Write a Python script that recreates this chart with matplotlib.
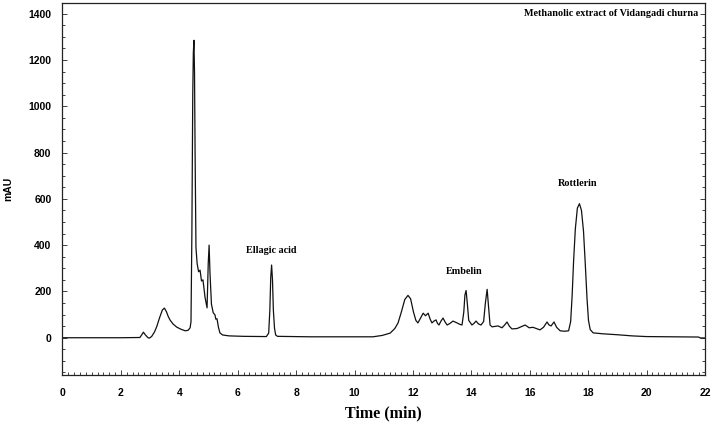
import matplotlib
matplotlib.use("Agg")
import matplotlib.pyplot as plt
from matplotlib.ticker import MultipleLocator

# Chromatogram trace: retention time (min) and signal (mAU)
time_min = [
    0.00, 1.00, 2.00, 2.65, 2.71, 2.77, 2.84, 2.92, 2.97, 3.05, 3.15, 3.23, 3.32, 3.42, 3.49,
    3.56, 3.62, 3.68, 3.78, 3.91, 4.05, 4.20, 4.30, 4.37, 4.40, 4.43, 4.46, 4.48, 4.50,
    4.52, 4.54, 4.57, 4.61, 4.66, 4.71, 4.76, 4.81, 4.88, 4.95, 4.99, 5.02, 5.05, 5.10,
    5.16, 5.22, 5.25, 5.29, 5.34, 5.39, 5.48, 5.70, 6.20, 6.98, 7.06, 7.10, 7.13, 7.16,
    7.19, 7.22, 7.26, 7.30, 7.36, 8.50, 9.80, 10.63, 10.95, 11.22, 11.38, 11.49, 11.60,
    11.72, 11.83, 11.92, 12.02, 12.10, 12.17, 12.26, 12.35, 12.43, 12.52, 12.59, 12.65,
    12.72, 12.79, 12.84, 12.89, 12.96, 13.03, 13.10, 13.17, 13.27, 13.37, 13.44, 13.51,
    13.60, 13.68, 13.74, 13.78, 13.82, 13.86, 13.91, 14.02, 14.09, 14.16, 14.24, 14.33,
    14.42, 14.48, 14.54, 14.59, 14.64, 14.71, 14.81, 14.91, 15.05, 15.14, 15.22, 15.30,
    15.39, 15.57, 15.70, 15.84, 15.98, 16.11, 16.35, 16.47, 16.59, 16.66, 16.73, 16.83,
    16.92, 17.04, 17.20, 17.33, 17.40, 17.45, 17.50, 17.56, 17.63, 17.70, 17.77, 17.84,
    17.90, 17.96, 18.01, 18.07, 18.17, 18.50, 18.99, 19.50, 20.00, 21.00, 21.78, 21.84,
    22.00,
]
signal_mau = [
    0, 0, 0, 1, 12, 24, 12, 1, -2, 5, 25, 49, 85, 120, 128,
    112, 92, 77, 60, 46, 37, 30, 32, 43, 70, 450, 1050, 1230, 1285,
    1150, 800, 390, 320, 285, 292, 245, 250, 175, 129, 320, 400, 280, 145,
    108, 99, 80, 82, 45, 21, 12, 8, 6, 5, 20, 120, 260, 314,
    250, 120, 40, 12, 6, 4, 4, 4, 10, 20, 40, 64, 110,
    165, 183, 168, 110, 75, 64, 85, 106, 95, 106, 80, 64,
    72, 77, 62, 55, 72, 85, 68, 55, 62, 72, 68, 64,
    58, 55, 110, 185, 204, 150, 75, 55, 62, 72, 60, 55,
    70, 150, 209, 130, 55, 47, 49, 51, 43, 55, 68, 50,
    38, 40, 47, 55, 43, 45, 34, 45, 68, 55, 51, 68,
    45, 30, 28, 30, 70, 180, 330, 470, 560, 579, 550, 460,
    320, 170, 75, 35, 21, 17, 13, 8, 5, 4, 3, -1,
    -1,
]

# Annotations
peak_labels = ["Ellagic acid", "Embelin", "Rottlerin"]
label_x = [7.15, 13.75, 17.65]
label_y = [375, 285, 665]
title_text = "Methanolic extract of Vidangadi churna"
x_label = "Time (min)"
y_label = "mAU"
x_ticks = [0, 2, 4, 6, 8, 10, 12, 14, 16, 18, 20, 22]
y_ticks = [0, 200, 400, 600, 800, 1000, 1200, 1400]

fig = plt.figure(figsize=(7.14, 4.32), dpi=100)
ax = fig.add_axes([62.5 / 714, 57 / 432, (705 - 62.5) / 714, (429 - 57) / 432])

ax.plot(time_min, signal_mau, color="#111111", linewidth=0.9)

ax.set_xlim(0, 22)
ax.set_ylim(-161, 1446)
ax.set_xticks(x_ticks)
ax.set_yticks(y_ticks)
ax.xaxis.set_minor_locator(MultipleLocator(0.2))
ax.yaxis.set_minor_locator(MultipleLocator(50))
ax.tick_params(which="both", direction="in", top=False, right=True, width=0.6, color="#222222")
ax.tick_params(which="major", length=3.5, pad=9)
ax.tick_params(which="minor", length=2)
ax.tick_params(axis="y", which="major", pad=8)

for lab in ax.get_xticklabels() + ax.get_yticklabels():
    lab.set_fontfamily("Liberation Sans")
    lab.set_fontweight("bold")
    lab.set_fontsize(7.5)

for sp in ax.spines.values():
    sp.set_linewidth(0.9)
    sp.set_color("#222222")

ax.set_xlabel(x_label, fontfamily="Liberation Serif", fontweight="bold", fontsize=11.5, labelpad=6)
ax.set_ylabel(y_label, fontfamily="Liberation Sans", fontweight="bold", fontsize=7.5)
ax.yaxis.set_label_coords(-0.077, 0.5)

for name, lx, ly in zip(peak_labels, label_x, label_y):
    ax.text(lx, ly, name, ha="center", va="center", fontfamily="Liberation Serif",
            fontweight="bold", fontsize=7.3)

ax.text(0.989, 0.972, title_text, transform=ax.transAxes, ha="right", va="center",
        fontfamily="Liberation Serif", fontweight="bold", fontsize=7.3)

fig.savefig("out.png", dpi=100)
